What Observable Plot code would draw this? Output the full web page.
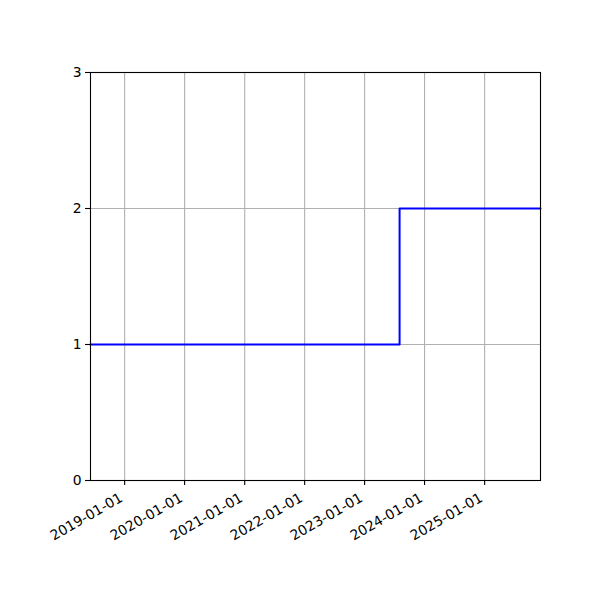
<!DOCTYPE html>
<html>
<head>
<meta charset="utf-8">
<script src="https://cdn.jsdelivr.net/npm/d3@7"></script>
<script src="https://cdn.jsdelivr.net/npm/@observablehq/plot@0.6"></script>
<style>
  body { margin: 0; background: #fff; }
  svg { font-family: "DejaVu Sans", sans-serif; }
</style>
</head>
<body>
<div id="chart"></div>
<script>
const dates = ["2018-06-07", "2023-08-02", "2025-12-07"];
const values = [1, 2, 2];
const xTickLabels = ["2019-01-01", "2020-01-01", "2021-01-01", "2022-01-01", "2023-01-01", "2024-01-01", "2025-01-01"];
const yTicks = [0, 1, 2, 3];

const data = dates.map((d, i) => ({date: new Date(d + "T00:00:00Z"), value: values[i]}));
const xTicks = xTickLabels.map(s => new Date(s + "T00:00:00Z"));
const fmt = d3.utcFormat("%Y-%m-%d");

const chart = Plot.plot({
  width: 600,
  height: 600,
  marginLeft: 90,
  marginRight: 60,
  marginTop: 72,
  marginBottom: 120,
  style: {fontFamily: "DejaVu Sans, sans-serif", fontSize: "13.9px", background: "#fff", color: "#000"},
  x: {type: "utc", domain: [data[0].date, data[data.length - 1].date]},
  y: {domain: [0, 3]},
  marks: [
    Plot.gridX(xTicks, {stroke: "#b0b0b0", strokeOpacity: 1, strokeWidth: 1.1}),
    Plot.gridY(yTicks, {stroke: "#b0b0b0", strokeOpacity: 1, strokeWidth: 1.1}),
    Plot.line(data, {x: "date", y: "value", curve: "step-after", stroke: "#0000ff", strokeWidth: 2}),
    Plot.frame({stroke: "#000", strokeWidth: 1.1}),
    Plot.axisX(xTicks, {tickSize: 5, tickFormat: () => "", label: null, strokeWidth: 1.1}),
    Plot.text(xTicks, {x: d => d, y: 0, text: d => fmt(d), rotate: -30, textAnchor: "end", lineAnchor: "bottom", dy: 20, dx: -1, fontSize: 13.9, fill: "#000"}),
    Plot.axisY(yTicks, {tickSize: 5, tickPadding: 4, tickFormat: d3.format("d"), label: null, fontSize: 13.9, strokeWidth: 1.1})
  ]
});
document.getElementById("chart").appendChild(chart);
</script>
</body>
</html>
